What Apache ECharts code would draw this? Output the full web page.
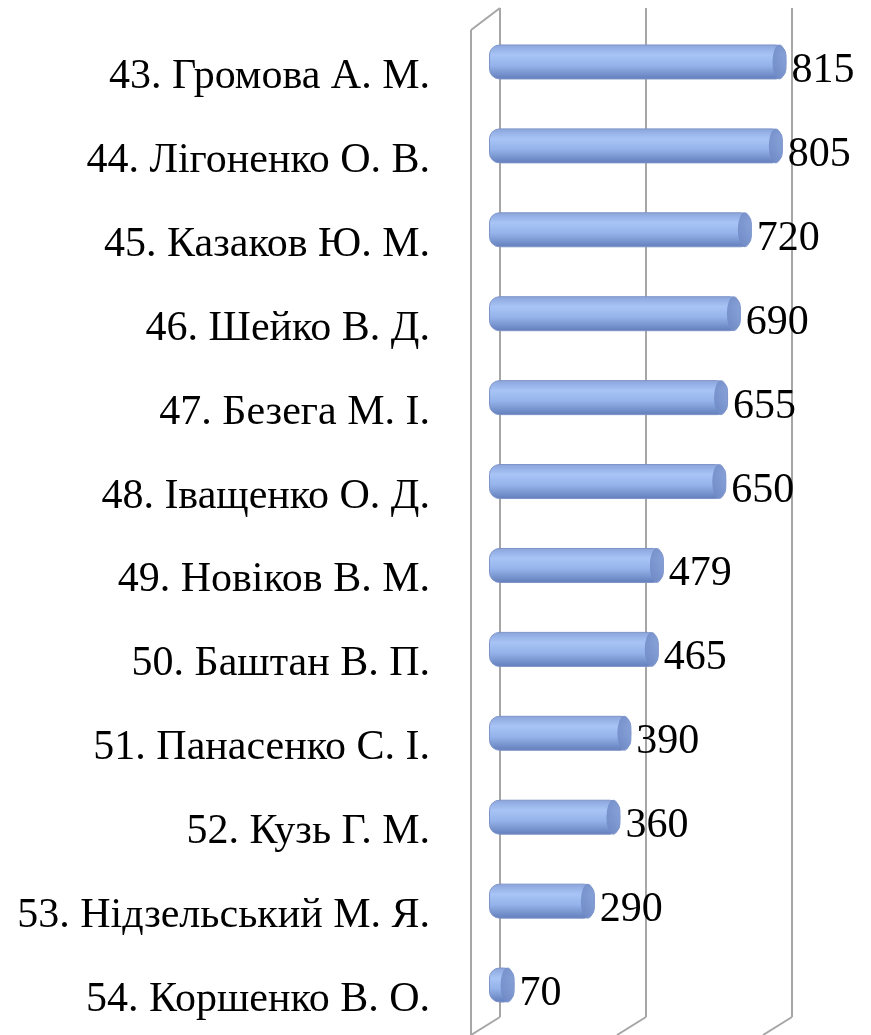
<!DOCTYPE html>
<html>
<head>
<meta charset="utf-8">
<script src="https://cdn.jsdelivr.net/npm/echarts@6/dist/echarts.min.js"></script>
<style>
  html, body { margin: 0; padding: 0; background: #fff; }
  #main { width: 871px; height: 1035px; }
</style>
</head>
<body>
<div id="main"></div>
<script>
// дані діаграми
var names = [
  '43. Громова А. М.',
  '44. Лігоненко О. В.',
  '45. Казаков Ю. М.',
  '46. Шейко В. Д.',
  '47. Безега М. І.',
  '48. Іващенко О. Д.',
  '49. Новіков В. М.',
  '50. Баштан В. П.',
  '51. Панасенко С. І.',
  '52. Кузь Г. М.',
  '53. Нідзельський М. Я.',
  '54. Коршенко В. О.'
];
var values = [815, 805, 720, 690, 655, 650, 479, 465, 390, 360, 290, 70];
var axisMax = 800;
var axisStep = 400;

var font = '"Liberation Serif", "Times New Roman", serif';
var wallColor = '#a6a6a6';

var myChart = echarts.init(document.getElementById('main'));

myChart.setOption({
  animation: false,
  grid: [
    // бари
    { left: 489, right: 90, top: 20, bottom: 8 },
    // задня стінка з лініями сітки
    { left: 500, right: 79, top: 8, bottom: 18 }
  ],
  xAxis: [
    {
      gridIndex: 0,
      type: 'value',
      min: 0,
      max: axisMax,
      interval: axisStep,
      show: false
    },
    {
      gridIndex: 1,
      type: 'value',
      min: 0,
      max: axisMax,
      interval: axisStep,
      axisLine: { show: false },
      axisTick: { show: false },
      axisLabel: { show: false },
      splitLine: { show: true, lineStyle: { color: wallColor, width: 2 } }
    }
  ],
  yAxis: [
    {
      gridIndex: 0,
      type: 'category',
      inverse: true,
      data: names,
      axisLine: { show: false },
      axisTick: { show: false },
      axisLabel: {
        margin: 59,
        formatter: function (v) { return '{n|' + v + '}'; },
        rich: {
          n: {
            fontFamily: font,
            fontSize: 42,
            color: '#000',
            padding: [30, 0, 0, 0]
          }
        }
      }
    },
    {
      gridIndex: 1,
      type: 'value',
      min: 0,
      max: 1,
      show: false
    }
  ],
  series: [
    {
      type: 'bar',
      xAxisIndex: 0,
      yAxisIndex: 0,
      data: values,
      barWidth: 35,
      clip: false,
      itemStyle: {
        borderRadius: 10,
        borderColor: '#7d94c9',
        borderWidth: 1,
        color: new echarts.graphic.LinearGradient(0, 0, 0, 1, [
          { offset: 0, color: '#8aa4da' },
          { offset: 0.3, color: '#a8c4f6' },
          { offset: 0.6, color: '#95b3ea' },
          { offset: 1, color: '#627dba' }
        ])
      },
      label: {
        show: true,
        position: 'right',
        distance: 5,
        offset: [0, 9],
        fontFamily: font,
        fontSize: 42,
        color: '#000'
      }
    },
    {
      // торець циліндра
      type: 'scatter',
      xAxisIndex: 0,
      yAxisIndex: 0,
      data: values,
      symbol: 'circle',
      symbolSize: [14, 35],
      symbolOffset: [-7, 0],
      clip: false,
      silent: true,
      itemStyle: {
        color: new echarts.graphic.LinearGradient(0, 0, 1, 0, [
          { offset: 0, color: '#6d87c3' },
          { offset: 1, color: '#7f98d0' }
        ])
      }
    }
  ]
});

// перспективні лінії стінок
var x0 = myChart.convertToPixel({ xAxisIndex: 1 }, 0);
var topY = 8, wallBottom = 1017, floorY = 1035;
var dx = 29, dy = 22;
var deco = [
  { type: 'line', shape: { x1: x0 - dx, y1: topY + dy, x2: x0 - dx, y2: floorY }, style: { stroke: wallColor, lineWidth: 2 } },
  { type: 'line', shape: { x1: x0 - dx, y1: topY + dy, x2: x0, y2: topY }, style: { stroke: wallColor, lineWidth: 2 } }
];
for (var v = 0; v <= axisMax; v += axisStep) {
  var px = myChart.convertToPixel({ xAxisIndex: 1 }, v);
  deco.push({ type: 'line', shape: { x1: px, y1: wallBottom, x2: px - dx, y2: floorY }, style: { stroke: wallColor, lineWidth: 2 } });
}
myChart.setOption({ graphic: deco });
</script>
</body>
</html>
